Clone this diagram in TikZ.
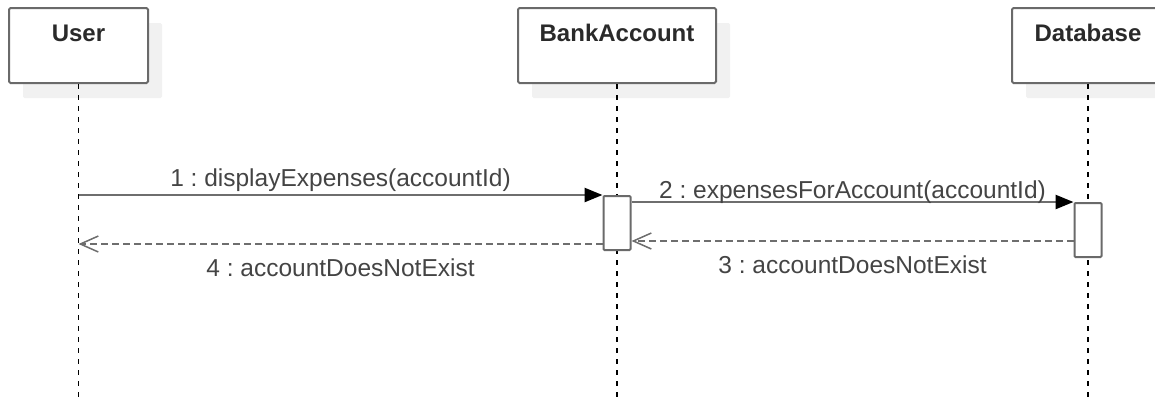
\documentclass[tikz,border=0pt]{standalone}
\usepackage{fontspec}
\setmainfont{Liberation Sans}
\usetikzlibrary{arrows.meta,shadows}
\frenchspacing
\definecolor{boxgray}{HTML}{6A6A6A}
\definecolor{linegray}{HTML}{6E6E6E}
\definecolor{shadowc}{HTML}{F1F1F1}
\definecolor{labelc}{HTML}{2A2A2A}
\definecolor{msgc}{HTML}{444444}
\begin{document}
\begin{tikzpicture}[x=1pt,y=-1pt,
  obj/.style={draw=boxgray, line width=2pt, fill=white, rounded corners=1.5pt,
    anchor=north west, inner xsep=0pt, inner ysep=0pt, minimum height=75pt,
    text height=33pt, text depth=42pt,
    font=\fontsize{24}{28}\selectfont\bfseries, text=labelc,
    drop shadow={shadow xshift=14pt, shadow yshift=-15pt, fill=shadowc, opacity=1}},
  act/.style={draw=boxgray, line width=2pt, fill=white, rounded corners=1pt,
    minimum width=27pt, minimum height=54pt, inner sep=0pt, anchor=north},
  life/.style={draw=black, line width=1.2pt, dash pattern=on 5pt off 6pt},
  msg/.style={draw=linegray, line width=2.5pt,
    -{Triangle[length=18pt,width=14pt,color=black]}},
  ret/.style={draw=linegray, line width=2pt, dash pattern=on 7pt off 4pt,
    -{Straight Barb[length=18pt,width=16pt,line width=1.5pt]}},
  lbl/.style={font=\fontsize{24.5}{28}\selectfont, text=msgc, inner sep=0pt, anchor=base}]
\useasboundingbox (0,0) rectangle (1155,405);
\clip (0,0) rectangle (1155,405);

\node[obj, minimum width=139pt] (user) at (8,7) {User};
\node[obj, minimum width=198pt] (bank) at (517,7) {BankAccount};
\node[obj, minimum width=152pt] (db) at (1011,7) {Database};

\path (user.south) ++(0,313) coordinate (uend);
\path (bank.south) ++(0,313) coordinate (bend);
\path (db.south) ++(0,313) coordinate (dend);
\draw[life] (user.south) -- (uend);
\draw[life] (bank.south) -- (bend);
\draw[life] (db.south) -- (dend);

\path (bank.south) ++(0,111) node[act] (a1) {};
\path (db.south) ++(0,118) node[act] (a2) {};

\path (user.south) ++(0,111) coordinate (u1);
\draw[msg] (u1) -- (a1.north west)
  node[lbl, midway, yshift=9pt] {1 : displayExpenses(accountId)};
\draw[msg] (a1.east |- a2.north) -- (a2.north west)
  node[lbl, midway, yshift=4pt] {2 : expensesForAccount(accountId)};

\path (a2.north west) ++(0,39) coordinate (r3);
\draw[ret] (r3) -- (a1.east |- r3)
  node[lbl, midway, yshift=-32pt] {3 : accountDoesNotExist};
\path (a1.north west) ++(0,49) coordinate (r4);
\draw[ret] (r4) -- (user.south |- r4)
  node[lbl, midway, yshift=-32pt] {4 : accountDoesNotExist};
\end{tikzpicture}
\end{document}
